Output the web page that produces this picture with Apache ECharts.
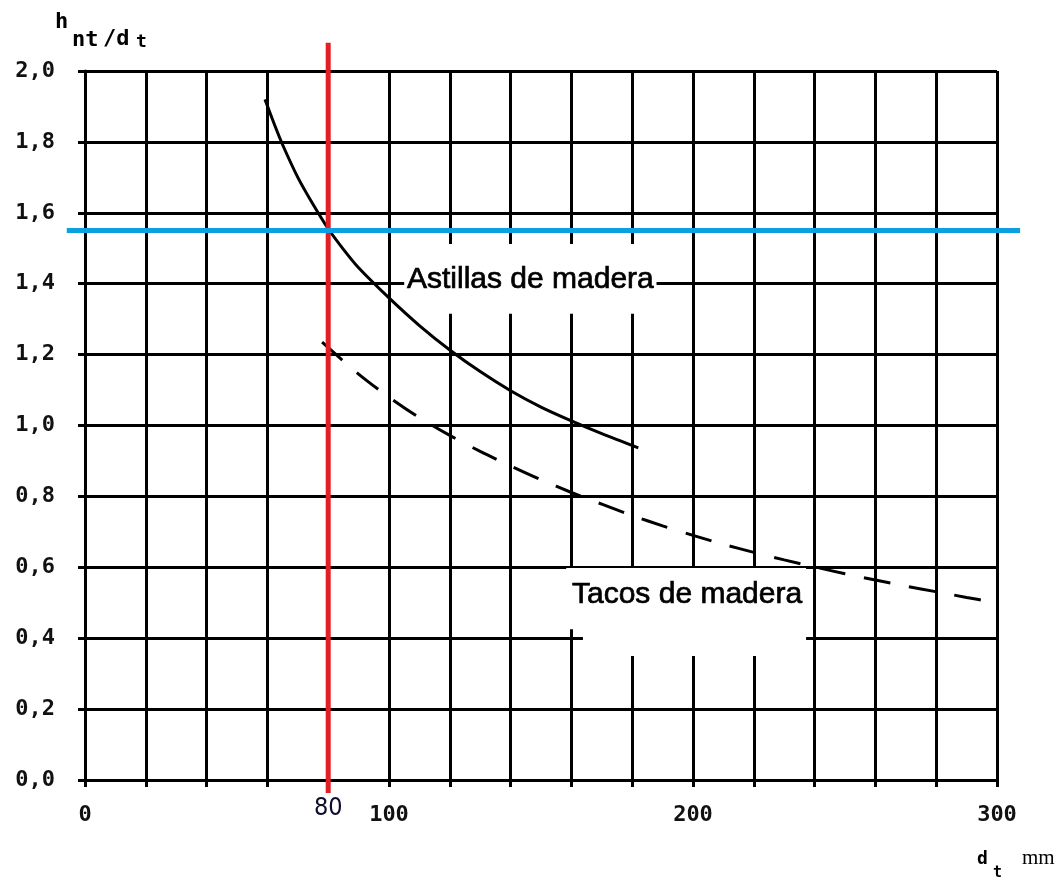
<!DOCTYPE html>
<html><head><meta charset="utf-8">
<script src="https://cdn.jsdelivr.net/npm/echarts@6/dist/echarts.min.js"></script>
<style>html,body{margin:0;padding:0;background:#fff}#c{width:1057px;height:880px}</style>
</head><body><div id="c"></div>
<script>
// ---- data ----
const xLabelled = [0, 100, 200, 300];
const astillasX = [59.2, 62.5, 65, 70, 75, 80, 85, 90, 100, 110, 120, 130, 140, 150, 160, 170, 182];
const astillasY = [1.92, 1.845, 1.792, 1.70, 1.624, 1.555, 1.497, 1.445, 1.36, 1.282, 1.213, 1.152, 1.098, 1.052, 1.013, 0.977, 0.937];
const tacosX = [78, 90, 100, 110, 120, 130, 140, 150, 160, 170, 180, 190, 200, 210, 220, 230, 240, 250, 260, 270, 280, 290, 298];
const tacosY = [1.235, 1.145, 1.08, 1.022, 0.972, 0.927, 0.886, 0.847, 0.811, 0.778, 0.746, 0.717, 0.69, 0.665, 0.642, 0.621, 0.601, 0.582, 0.564, 0.547, 0.531, 0.515, 0.503];
const refX = 80;      // red vertical reference
const refY = 1.55;    // blue horizontal reference
const seriesNames = ['Astillas de madera', 'Tacos de madera'];

const zip = (xs, ys) => xs.map((x, i) => [x, ys[i]]);

const chart = echarts.init(document.getElementById('c'), null, {renderer: 'canvas'});
const black = '#000';
const mono = "'DejaVu Sans Mono', 'Liberation Mono', monospace";

const option = {
  animation: false,
  backgroundColor: '#fff',
  grid: {left: 85, right: 60, top: 71, bottom: 100, containLabel: false},
  xAxis: {
    type: 'value', min: 0, max: 300, interval: 20,
    axisLine: {show: true, lineStyle: {color: black, width: 3}},
    axisTick: {show: true, inside: false, length: 7, lineStyle: {color: black, width: 3}},
    splitLine: {show: true, lineStyle: {color: black, width: 3}},
    axisLabel: {
      margin: 24, color: '#111', fontFamily: mono, fontSize: 22, fontWeight: 'bold',
      formatter: v => xLabelled.includes(v) ? String(v) : ''
    }
  },
  yAxis: {
    type: 'value', min: 0, max: 2, interval: 0.2,
    axisLine: {show: true, lineStyle: {color: black, width: 3}},
    axisTick: {show: true, inside: false, length: 7, lineStyle: {color: black, width: 3}},
    splitLine: {show: true, lineStyle: {color: black, width: 3}},
    axisLabel: {
      margin: 30, color: '#111', fontFamily: mono, fontSize: 22, fontWeight: 'bold',
      formatter: v => v.toFixed(1).replace('.', ',')
    }
  },
  series: [
    {
      type: 'scatter', data: [], z: 1, silent: true,
      markArea: {
        silent: true,
        itemStyle: {color: '#fff', opacity: 1, borderWidth: 0},
        data: [
          [{coord: [105, 1.512]}, {coord: [188, 1.315]}],
          [{coord: [158.3, 0.598]}, {coord: [237.2, 0.425]}],
          [{coord: [163.8, 0.445]}, {coord: [237.2, 0.350]}]
        ]
      }
    },
    {
      name: seriesNames[0], type: 'line', z: 5, smooth: 0.3, showSymbol: false,
      lineStyle: {color: black, width: 3},
      data: zip(astillasX, astillasY)
    },
    {
      name: seriesNames[1], type: 'line', z: 5, smooth: 0.3, showSymbol: false,
      lineStyle: {color: black, width: 3, type: [27, 19]},
      data: zip(tacosX, tacosY)
    }
  ]
};
chart.setOption(option);

const p = (x, y) => chart.convertToPixel({xAxisIndex: 0, yAxisIndex: 0}, [x, y]);
const rTop = p(refX, 2.08), rBot = p(refX, -0.037);
const bL = p(-6, refY), bR = p(307.6, refY);
const l80 = p(refX, 0);
const labelFont = "30px 'Liberation Sans', Arial, sans-serif";

chart.setOption({
  graphic: [
    {type: 'line', z: 100, shape: {x1: rTop[0], y1: rTop[1], x2: rBot[0], y2: rBot[1]}, style: {stroke: '#e31e24', lineWidth: 5}},
    {type: 'line', z: 101, shape: {x1: bL[0], y1: bL[1], x2: bR[0], y2: bR[1]}, style: {stroke: '#0aa0e2', lineWidth: 5}},
    {type: 'text', z: 102, x: l80[0], y: l80[1] + 28, style: {text: String(refX), fill: '#0d0d2e', font: "25px 'Liberation Sans Narrow', 'DejaVu Sans Condensed', 'Liberation Sans', sans-serif", align: 'center', verticalAlign: 'middle'}},
    {type: 'text', z: 102, x: 407, y: 280, style: {text: seriesNames[0], fill: '#000', stroke: '#000', lineWidth: 0.7, font: labelFont, align: 'left', verticalAlign: 'middle'}},
    {type: 'text', z: 102, x: 572, y: 595, style: {text: seriesNames[1], fill: '#000', stroke: '#000', lineWidth: 0.7, font: labelFont, align: 'left', verticalAlign: 'middle'}},
    // y-axis title  h_nt / d_t
    {type: 'text', z: 102, x: 55, y: 22, style: {text: 'h', fill: '#000', font: "bold 22px " + mono, verticalAlign: 'middle'}},
    {type: 'text', z: 102, x: 72, y: 40, style: {text: 'nt', fill: '#000', font: "bold 22px " + mono, verticalAlign: 'middle'}},
    {type: 'text', z: 102, x: 103, y: 39, style: {text: '/d', fill: '#000', font: "bold 22px " + mono, verticalAlign: 'middle'}},
    {type: 'text', z: 102, x: 136, y: 42, style: {text: 't', fill: '#000', font: "bold 18px " + mono, verticalAlign: 'middle'}},
    // x-axis title  d_t mm
    {type: 'text', z: 102, x: 977, y: 859, style: {text: 'd', fill: '#000', font: "bold 18px " + mono, verticalAlign: 'middle'}},
    {type: 'text', z: 102, x: 993, y: 873, style: {text: 't', fill: '#000', font: "bold 15px " + mono, verticalAlign: 'middle'}},
    {type: 'text', z: 102, x: 1022, y: 858, style: {text: 'mm', fill: '#000', font: "21px 'Liberation Serif', serif", verticalAlign: 'middle'}}
  ]
});
</script>
</body></html>
